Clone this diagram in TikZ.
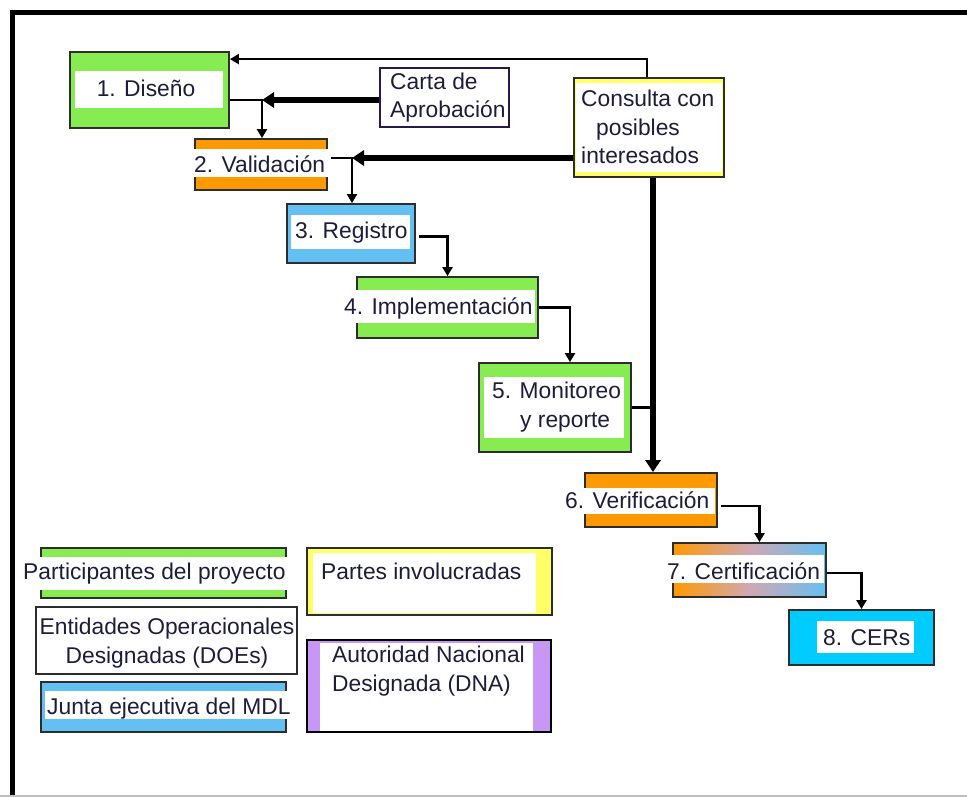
\documentclass[tikz,border=0pt]{standalone}
\usepackage{fontspec}
\setmainfont{Liberation Sans}
\usetikzlibrary{arrows.meta,calc,fit}

\definecolor{pgreen}{RGB}{134,236,82}
\definecolor{porange}{RGB}{255,153,0}
\definecolor{pblue}{RGB}{100,192,242}
\definecolor{pmauve}{RGB}{208,168,178}
\definecolor{pcyan}{RGB}{0,204,255}
\definecolor{pyellow}{RGB}{255,255,102}
\definecolor{ppurple}{RGB}{200,150,245}
\definecolor{ink}{RGB}{30,28,60}
\definecolor{edge}{RGB}{45,45,45}
\definecolor{cartaedge}{RGB}{40,25,70}

\tikzset{
  stage/.style={draw=edge, line width=1.8pt, inner sep=0pt},
  band/.style={fill=white},
  lbl/.style={text=ink, font=\fontsize{22.8pt}{28.5pt}\selectfont, inner sep=0pt},
  flow/.style={draw=black, line width=2.8pt, -{Triangle[length=9pt,width=10pt]}},
  flowthick/.style={draw=black, line width=6pt, -{Triangle[length=12pt,width=15pt]}},
  link/.style={draw=black, line width=2.8pt},
}

\begin{document}
\begin{tikzpicture}[x=1pt,y=-1pt]
\useasboundingbox (0,0) rectangle (967,797);
\fill[white] (0,0) rectangle (967,797);

% outer frame
\draw[line width=5pt] (967,12.5) -| (12,797);
\draw[black!25, line width=2pt] (0,796) -- (967,796);

% process stages
\node[stage, fill=pgreen, fit={(70,52) (229,128)}] (d1) {};
\fill[band] (75,71) rectangle (223,108);
\node[lbl, anchor=base] at (146,97) {1. Diseño};

\node[stage, fill=porange, fit={(195,139) (327,190)}] (d2) {};
\fill[band] (193,149) rectangle (328,177);
\node[lbl, anchor=base west] at (194,172) {2. Validación};

\node[stage, fill=pblue, fit={(287,204) (415,263)}] (d3) {};
\fill[band] (291,215) rectangle (410,249);
\node[lbl, anchor=base west] at (295,238) {3. Registro};

\node[stage, fill=pgreen, fit={(357,277) (538,338)}] (d4) {};
\fill[band] (342,290) rectangle (535,323);
\node[lbl, anchor=base west] at (344,314) {4. Implementación};

\node[stage, fill=pgreen, fit={(479,363) (631,452)}] (d5) {};
\fill[band] (484,377) rectangle (624,438);
\node[lbl, anchor=base west, align=left] at (492,427) {5. Monitoreo\\\hspace*{28pt}y reporte};

\node[stage, fill=porange, fit={(585,473) (717,527)}] (d6) {};
\fill[band] (563,488) rectangle (715,514);
\node[lbl, anchor=base west] at (565,508) {6. Verificación};

\node[stage, left color=porange, right color=pblue, middle color=pmauve, fit={(673,543) (826,597)}] (d7) {};
\fill[band] (665,555) rectangle (824,583);
\node[lbl, anchor=base west] at (667,579) {7. Certificación};

\node[stage, fill=pcyan, fit={(789,610) (934,665)}] (d8) {};
\fill[band] (817,621) rectangle (914,653);
\node[lbl, anchor=base west] at (823,645) {8. CERs};

% side inputs
\node[stage, draw=cartaedge, fill=white, fit={(380,68) (509,127)}] (carta) {};
\node[lbl, anchor=base west, align=left] at (390,118) {Carta de\\Aprobación};

\node[stage, fill=pyellow, fit={(574,78) (724,177)}] (cons) {};
\fill[band] (576,83) rectangle (722,172);
\node[lbl, anchor=base west, align=left] at (581,164) {Consulta con\\\hspace*{15pt}posibles\\interesados};

% connectors
\coordinate (j1) at (262,100);
\coordinate (j2) at (352,158);
\coordinate (trunk) at ($(cons.south)+(4,0)$);

\draw[flow] ($(cons.north)+(-2,0)$) |- ($(d1.north east)+(0,8)$);
\draw[flowthick] (carta.west |- j1) -- (j1);
\draw[flow] (d1.east |- j1) -- (j1) -- (j1 |- d2.north);
\draw[flowthick] (cons.west |- j2) -- (j2);
\draw[flow] ($(d2.east |- j2)+(3,0)$) -- (j2) -- (j2 |- d3.north);
\draw[flow] ($(d3.east)+(3,3)$) -| (d4.north);
\draw[flow] (d4.east) -| ($(d5.north)+(15,0)$);
\draw[flowthick] (trunk) -- (trunk |- d6.north);
\draw[link] (d5.east) -- (trunk |- d5.east);
\draw[flow] ($(d6.east)+(3,6)$) -| ($(d7.north)+(10,0)$);
\draw[flow] ($(d7.east)+(0,3)$) -| (d8.north);

% legend
\node[stage, fill=pgreen, fit={(41,548) (286,598)}] (kpart) {};
\fill[band] (21,557) rectangle (289,590);
\node[lbl, anchor=base west] at (23,579) {Participantes del proyecto};

\node[stage, fill=white, fit={(36,607) (297,674)}] (kdoe) {};
\node[lbl, anchor=base, align=center] at (167,663) {Entidades Operacionales\\Designadas (DOEs)};

\node[stage, fill=pblue, fit={(41,682) (286,732)}] (kjunta) {};
\fill[band] (45,691) rectangle (289,719);
\node[lbl, anchor=base west] at (47,714) {Junta ejecutiva del MDL};

\node[stage, fill=pyellow, fit={(307,548) (552,615)}] (kpartes) {};
\fill[band] (313,553) rectangle (536,613);
\node[lbl, anchor=base west] at (321,579) {Partes involucradas};

\node[stage, draw=black, fill=ppurple, fit={(307,640) (551,732)}] (kdna) {};
\fill[band] (320,643) rectangle (533,731);
\node[lbl, anchor=base west, align=left] at (332,691) {Autoridad Nacional\\Designada (DNA)};
\end{tikzpicture}
\end{document}
